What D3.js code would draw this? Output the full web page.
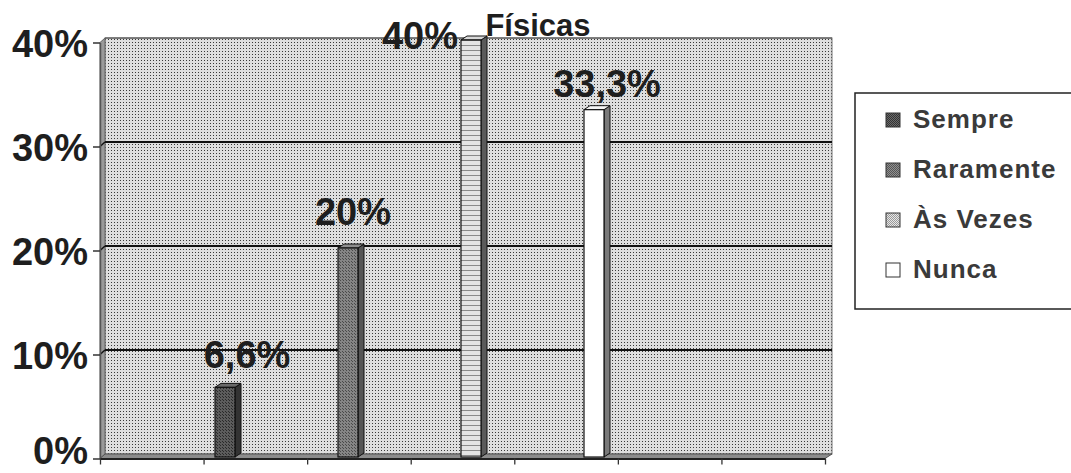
<!DOCTYPE html>
<html>
<head>
<meta charset="utf-8">
<script src="https://cdn.jsdelivr.net/npm/d3@7"></script>
<style>
  html, body { margin: 0; padding: 0; background: #ffffff; }
  svg { display: block; }
  text { font-family: "Liberation Sans", Arial, sans-serif; }
</style>
</head>
<body>
<svg id="chart" width="1071" height="473"></svg>
<script>
// ---- data ----
const series = ["Sempre", "Raramente", "Às Vezes", "Nunca"];
const values = [6.6, 20, 40, 33.3];
const valueLabels = ["6,6%", "20%", "40%", "33,3%"];
const yTicks = [0, 10, 20, 30, 40];
const yTickLabels = ["0%", "10%", "20%", "30%", "40%"];
const titleText = "Físicas";
const xTickCount = 7;

// ---- layout ----
const svg = d3.select("#chart");
const defs = svg.append("defs");

// stippled wall texture
const pat = defs.append("pattern").attr("id", "stipple")
  .attr("width", 3).attr("height", 3).attr("patternUnits", "userSpaceOnUse");
pat.append("rect").attr("width", 3).attr("height", 3).attr("fill", "#dedede");
pat.append("rect").attr("x", 0).attr("y", 0).attr("width", 1).attr("height", 1).attr("fill", "#383838");

function hatch(id, bg, fg, size) {
  const p = defs.append("pattern").attr("id", id)
    .attr("width", size).attr("height", size).attr("patternUnits", "userSpaceOnUse");
  p.append("rect").attr("width", size).attr("height", size).attr("fill", bg);
  p.append("rect").attr("x", 0).attr("y", 0).attr("width", 1).attr("height", 1).attr("fill", fg);
  p.append("rect").attr("x", 1).attr("y", 1).attr("width", 1).attr("height", 1).attr("fill", fg);
  return "url(#" + id + ")";
}
const stripes = defs.append("pattern").attr("id", "stripes")
  .attr("width", 4).attr("height", 5).attr("patternUnits", "userSpaceOnUse");
stripes.append("rect").attr("width", 4).attr("height", 5).attr("fill", "#e4e4e4");
stripes.append("rect").attr("y", 0).attr("width", 4).attr("height", 1).attr("fill", "#8a8a8a");

const fronts = [hatch("h0", "#5c5c5c", "#2a2a2a", 3), hatch("h1", "#858585", "#4a4a4a", 3), "url(#stripes)", "#ffffff"];
const sides = ["#333333", "#555555", "#5a5a5a", "#7a7a7a"];
const tops = ["#6a6a6a", "#8e8e8e", "#d8d8d8", "#f4f4f4"];
const swatches = [hatch("s0", "#6a6a6a", "#333", 2), hatch("s1", "#909090", "#555", 2), hatch("s2", "#e6e6e6", "#999", 2), "#ffffff"];

const depthX = 6, depthY = 4;
const wallLeft = 105, wallRight = 832;
const axisX = 100;

const yWall = d3.scaleLinear().domain([0, 40]).range([454, 38]);
const yFront = d3.scaleLinear().domain([0, 40]).range([458.5, 42.5]);
const xBar = d3.scalePoint().domain(series).range([225, 594]);
const xTicks = d3.scaleLinear().domain([0, xTickCount]).range([axisX, 825]);
const barW = 20;

// back wall
svg.append("rect")
  .attr("x", wallLeft).attr("y", yWall(40))
  .attr("width", wallRight - wallLeft).attr("height", yWall(0) - yWall(40))
  .attr("fill", "url(#stipple)")
  .attr("stroke", "#777").attr("stroke-width", 1);

// left side wall
svg.append("path")
  .attr("d", `M${axisX},${yFront(40)} L${wallLeft},${yWall(40)} L${wallLeft},${yWall(0)} L${axisX},${yFront(0)} Z`)
  .attr("fill", "#9a9a9a").attr("stroke", "#666").attr("stroke-width", 1);

// floor
svg.append("path")
  .attr("d", `M${axisX},${yFront(0)} L${wallLeft},${yWall(0)} L${wallRight},${yWall(0)} L${825},${yFront(0)} Z`)
  .attr("fill", "#8c8c8c").attr("stroke", "#555").attr("stroke-width", 1);

// gridlines
svg.append("g").selectAll("line")
  .data(yTicks.filter(v => v > 0 && v < 40))
  .join("line")
  .attr("x1", wallLeft).attr("x2", wallRight)
  .attr("y1", d => yWall(d)).attr("y2", d => yWall(d))
  .attr("stroke", "#111").attr("stroke-width", 2.2);
svg.append("line")
  .attr("x1", wallLeft).attr("x2", wallRight)
  .attr("y1", yWall(40)).attr("y2", yWall(40))
  .attr("stroke", "#444").attr("stroke-width", 1.2);
svg.append("g").selectAll("line")
  .data(yTicks.filter(v => v > 0 && v < 40))
  .join("line")
  .attr("x1", axisX).attr("x2", wallLeft)
  .attr("y1", d => yFront(d)).attr("y2", d => yWall(d))
  .attr("stroke", "#111").attr("stroke-width", 1.5);

// y axis
const yAxis = d3.axisLeft(yFront)
  .tickValues(yTicks)
  .tickFormat((d, i) => yTickLabels[i])
  .tickSize(7).tickSizeOuter(0).tickPadding(5);
const gy = svg.append("g").attr("transform", `translate(${axisX},0)`).call(yAxis);
gy.select(".domain").attr("stroke", "#555").attr("stroke-width", 1.5);
gy.selectAll(".tick line").attr("stroke", "#333").attr("stroke-width", 1.5);
gy.selectAll(".tick text")
  .attr("fill", "#1e1e1e")
  .style("font-size", "38px").style("font-weight", "bold")
  .attr("dy", d => d === 0 ? "0.13em" : "0.36em");

// x axis (tick marks only)
const xAxis = d3.axisBottom(xTicks)
  .tickValues(d3.range(xTickCount + 1))
  .tickFormat("")
  .tickSize(6).tickSizeOuter(0);
const gx = svg.append("g").attr("transform", `translate(0,${yFront(0)})`).call(xAxis);
gx.select(".domain").attr("stroke", "#222").attr("stroke-width", 2);
gx.selectAll(".tick line").attr("stroke", "#333").attr("stroke-width", 1.3);

// bars (3D look)
const bars = svg.append("g").selectAll("g").data(series).join("g");
bars.each(function (s, i) {
  const g = d3.select(this);
  const x0 = xBar(s) - barW / 2, x1 = x0 + barW;
  const yt = yWall(values[i]) + 2, yb = yFront(0) - 1.5;
  g.append("path")
    .attr("d", `M${x1},${yt} L${x1 + depthX},${yt - depthY} L${x1 + depthX},${yb - depthY} L${x1},${yb} Z`)
    .attr("fill", sides[i]).attr("stroke", "#111").attr("stroke-width", 1);
  g.append("path")
    .attr("d", `M${x0},${yt} L${x0 + depthX},${yt - depthY} L${x1 + depthX},${yt - depthY} L${x1},${yt} Z`)
    .attr("fill", tops[i]).attr("stroke", "#111").attr("stroke-width", 1);
  g.append("rect")
    .attr("x", x0).attr("y", yt).attr("width", barW).attr("height", yb - yt)
    .attr("fill", fronts[i]).attr("stroke", "#111").attr("stroke-width", 1.2);
});

// data labels (nudged as in the original)
const labelDx = [22, 5, -51, 13];
const labelDy = [-19, -23, 9, -13];
svg.append("g").selectAll("text").data(series).join("text")
  .attr("x", (s, i) => xBar(s) + labelDx[i])
  .attr("y", (s, i) => yWall(values[i]) + 2 + labelDy[i])
  .attr("text-anchor", "middle")
  .attr("fill", "#1e1e1e")
  .style("font-size", "38px").style("font-weight", "bold")
  .text((s, i) => valueLabels[i]);

// title (second line visible only)
svg.append("text")
  .attr("x", 538).attr("y", 36)
  .attr("text-anchor", "middle")
  .attr("fill", "#1e1e1e")
  .style("font-size", "31px").style("font-weight", "bold")
  .text(titleText);

// legend
const lg = svg.append("g");
lg.append("rect")
  .attr("x", 855).attr("y", 93).attr("width", 240).attr("height", 216)
  .attr("fill", "#ffffff").attr("stroke", "#222").attr("stroke-width", 1.5);
const items = lg.selectAll("g.item").data(series).join("g").attr("class", "item")
  .attr("transform", (d, i) => `translate(886,${128 + i * 50})`);
items.append("rect")
  .attr("x", 0).attr("y", -15).attr("width", 14).attr("height", 14)
  .attr("fill", (d, i) => swatches[i]).attr("stroke", "#333").attr("stroke-width", 1);
items.append("text")
  .attr("x", 27).attr("y", 0)
  .attr("fill", "#3a3a3a")
  .style("font-size", "26px").style("font-weight", "bold")
  .style("letter-spacing", "1px")
  .text(d => d);
</script>
</body>
</html>
